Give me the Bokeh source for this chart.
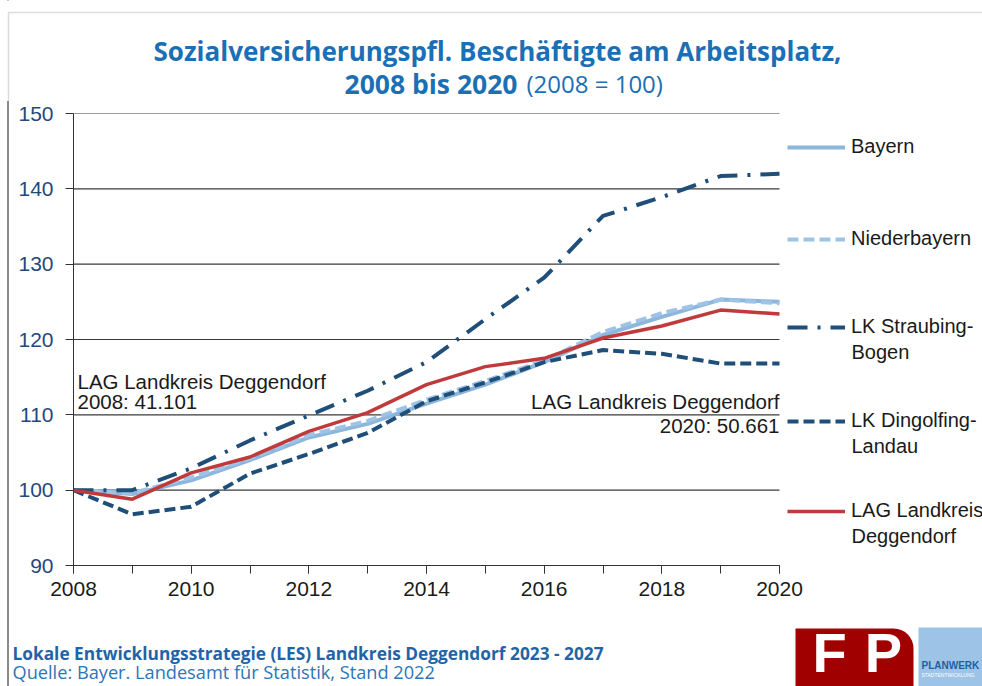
from bokeh.plotting import figure
from bokeh.layouts import column
from bokeh.models import Range1d, FixedTicker, Label, Legend, LegendItem, BoxAnnotation
from bokeh.embed import file_html
from bokeh.resources import INLINE

# ---- data ----
years = list(range(2008, 2021))
bayern = [100, 99.5, 101.3, 104.0, 107.0, 108.8, 111.5, 114.0, 117.0, 120.6, 123.0, 125.3, 125.0]
niederbayern = [100, 99.6, 101.7, 104.2, 107.3, 109.2, 112.0, 114.5, 117.2, 121.0, 123.5, 125.3, 124.8]
straubing = [100, 100.0, 102.9, 106.6, 109.9, 113.2, 117.0, 122.7, 128.2, 136.4, 138.9, 141.7, 142.0]
dingolfing = [100, 96.8, 97.8, 102.2, 104.8, 107.6, 111.8, 114.3, 117.0, 118.6, 118.1, 116.8, 116.8]
deggendorf = [100, 98.8, 102.3, 104.4, 107.8, 110.3, 114.0, 116.4, 117.5, 120.2, 121.8, 123.9, 123.4]

series_first = ["Bayern", "Niederbayern", "LK Straubing-", "LK Dingolfing-", "LAG Landkreis"]
series_second = ["", "", "Bogen", "Landau", "Deggendorf"]
x_ticks = list(range(2008, 2021, 2))
y_ticks = list(range(90, 151, 10))

TITLE1 = "Sozialversicherungspfl. Beschäftigte am Arbeitsplatz,"
TITLE2_BOLD = "2008 bis 2020"
TITLE2_REG = "(2008 = 100)"
NOTE_LEFT = ["LAG Landkreis Deggendorf", "2008: 41.101"]
NOTE_RIGHT = ["LAG Landkreis Deggendorf", "2020: 50.661"]
FOOT1 = "Lokale Entwicklungsstrategie (LES) Landkreis Deggendorf 2023 - 2027"
FOOT2 = "Quelle: Bayer. Landesamt für Statistik, Stand 2022"

TITLE_BLUE = "#1B6FB5"
AX_FONT = "Liberation Sans"
HEAD_FONT = "Open Sans"
W = 982


def blank(height, fill="white"):
    f = figure(width=W, height=height, x_range=Range1d(0, W), y_range=Range1d(0, height),
               output_backend="svg", toolbar_location=None, x_axis_type=None,
               y_axis_type=None, min_border=0, frame_align=False)
    f.outline_line_color = None
    f.xgrid.visible = False
    f.ygrid.visible = False
    f.background_fill_color = fill
    f.border_fill_color = fill
    return f


def lab(fig, x, y, text, size, font=AX_FONT, bold=False, color="#1a1a1a", align="left",
        baseline="alphabetic"):
    fig.add_layout(Label(x=x, y=y, x_units="screen", y_units="screen", text=text,
                         text_align=align, text_baseline=baseline, text_font=font,
                         text_font_style="bold" if bold else "normal",
                         text_font_size=size, text_color=color))


# ---------------- header ----------------
HEAD_H = 101
head = blank(HEAD_H)
head.add_layout(BoxAnnotation(left=8, right=3000, top=HEAD_H - 12, bottom=-3000,
                              left_units="screen", right_units="screen", top_units="screen",
                              bottom_units="screen", fill_alpha=0, line_color="#8a8a8a",
                              line_width=1.5))
lab(head, 497, 51, TITLE1, "26px", HEAD_FONT, True, TITLE_BLUE, "center")
lab(head, 517, 18, TITLE2_BOLD, "26.5px", HEAD_FONT, True, TITLE_BLUE, "right")
lab(head, 526, 18, TITLE2_REG, "24px", HEAD_FONT, False, TITLE_BLUE, "left")

# ---------------- main chart ----------------
MAIN_H = 509
FRAME_L, FRAME_T, FRAME_B = 73, 12, 45
frame_w = W - FRAME_L
plot_w = 706  # pixel width of 2008..2020
x_end = 2008 + 12 * frame_w / plot_w

p = figure(width=W, height=MAIN_H, x_range=Range1d(2008, x_end), y_range=Range1d(90, 150),
           output_backend="svg", toolbar_location=None, title=None, frame_align=False,
           min_border_left=FRAME_L, min_border_right=0, min_border_top=FRAME_T,
           min_border_bottom=FRAME_B)
p.outline_line_color = None
p.background_fill_color = "white"
p.border_fill_color = None

p.xaxis.bounds = (2008, 2020)
p.xaxis.ticker = FixedTicker(ticks=x_ticks, minor_ticks=years)
p.xaxis.major_tick_out = 8
p.xaxis.major_tick_in = 0
p.xaxis.minor_tick_out = 8
p.xaxis.minor_tick_in = 0
p.xaxis.major_tick_line_color = "#333333"
p.xaxis.minor_tick_line_color = "#333333"
p.xaxis.axis_line_color = "#333333"
p.xaxis.major_label_text_font = AX_FONT
p.xaxis.major_label_text_font_size = "21px"
p.xaxis.major_label_text_color = "#1a1a1a"
p.xaxis.major_label_standoff = 8
p.xgrid.visible = False

p.yaxis.ticker = FixedTicker(ticks=y_ticks)
p.yaxis.minor_tick_line_color = None
p.yaxis.major_tick_out = 8
p.yaxis.major_tick_in = 0
p.yaxis.major_tick_line_color = "#333333"
p.yaxis.axis_line_color = "#333333"
p.yaxis.major_label_text_font = AX_FONT
p.yaxis.major_label_text_font_size = "21px"
p.yaxis.major_label_text_color = "#1F497D"
p.yaxis.major_label_standoff = 12
p.ygrid.visible = False

# horizontal gridlines limited to 2008..2020
p.segment(x0=[years[0]] * len(y_ticks), x1=[years[-1]] * len(y_ticks), y0=y_ticks, y1=y_ticks,
          line_color="#3a3a3a", line_width=1.2)

r_bay = p.line(years, bayern, line_color="#8DB6DC", line_width=4)
r_nb = p.line(years, niederbayern, line_color="#9DC3E6", line_width=4, line_dash="11 5")
r_str = p.line(years, straubing, line_color="#1F4E79", line_width=4, line_dash="20 10 3 10")
r_din = p.line(years, dingolfing, line_color="#1F4E79", line_width=4, line_dash="11 5")
r_deg = p.line(years, deggendorf, line_color="#C0393B", line_width=3.5)

leg_y = [407, 315, 227, 133, 43]
sub_y = [0, 0, 214, 120, 30]
for r, name, name2, ly, sy in zip([r_bay, r_nb, r_str, r_din, r_deg], series_first,
                                   series_second, leg_y, sub_y):
    lg = Legend(items=[LegendItem(label=name, renderers=[r])], location=(714, ly),
                border_line_color=None, background_fill_alpha=0, padding=0, margin=0,
                glyph_width=58, glyph_height=20, label_standoff=6, label_height=20,
                label_text_font=AX_FONT, label_text_font_size="20px",
                label_text_color="#1a1a1a", spacing=0)
    p.add_layout(lg)
    if name2:
        lab(p, 778, sy, name2, "20px")

lab(p, 4, 184, NOTE_LEFT[0], "20.5px")
lab(p, 4, 164, NOTE_LEFT[1], "20.5px")
lab(p, 706, 164, NOTE_RIGHT[0], "20.5px", align="right")
lab(p, 706, 140, NOTE_RIGHT[1], "20.5px", align="right")

# ---------------- footer ----------------
FOOT_H = 76
foot = blank(FOOT_H, fill=None)
lab(foot, 12, 33, FOOT1, "17.3px", HEAD_FONT, True, "#1F64A8")
lab(foot, 12, 15, FOOT2, "18.2px", HEAD_FONT, False, "#2E75B6")
foot.add_layout(BoxAnnotation(left=795, right=913, top=58, bottom=-20,
                              left_units="screen", right_units="screen", top_units="screen",
                              bottom_units="screen", fill_color="#A00000", fill_alpha=1,
                              line_color=None, border_radius=(0, 20, 0, 0)))
lab(foot, 829, 34, "F", "56px", AX_FONT, True, "white", "center")
lab(foot, 883, 34, "P", "56px", AX_FONT, True, "white", "center")
foot.add_layout(BoxAnnotation(left=918, right=1000, top=59, bottom=-20,
                              left_units="screen", right_units="screen", top_units="screen",
                              bottom_units="screen", fill_color="#9DC3E6", fill_alpha=1,
                              line_color=None))
lab(foot, 921, 21, "PLANWERK", "10px", AX_FONT, True, "#1F5FA0")
lab(foot, 921, 12, "STADTENTWICKLUNG", "5px", AX_FONT, False, "white")

layout = column(head, p, foot, spacing=0,
                styles={"background": "linear-gradient(to right, transparent 7.25px, #8a8a8a 7.25px, "
                                      "#8a8a8a 8.75px, transparent 8.75px)"})
open("out.html", "w").write(file_html(layout, INLINE))
